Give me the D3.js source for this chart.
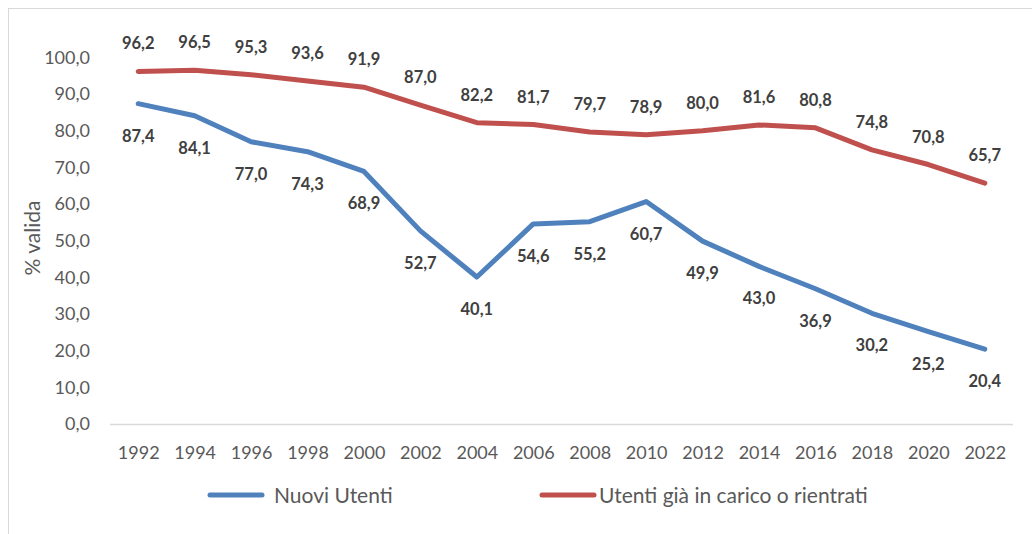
<!DOCTYPE html>
<html>
<head>
<meta charset="utf-8">
<script src="https://cdn.jsdelivr.net/npm/d3@7"></script>
<style>
  html, body { margin: 0; padding: 0; background: #fff; }
  svg { display: block; font-family: Lato, "Open Sans", sans-serif; }
</style>
</head>
<body>
<svg id="chart" width="1032" height="534"></svg>
<script>
// ── dati ──────────────────────────────────────────────
const years  = ["1992","1994","1996","1998","2000","2002","2004","2006",
                "2008","2010","2012","2014","2016","2018","2020","2022"];
const nuovi  = [87.4, 84.1, 77.0, 74.3, 68.9, 52.7, 40.1, 54.6,
                55.2, 60.7, 49.9, 43.0, 36.9, 30.2, 25.2, 20.4];
const giaIn  = [96.2, 96.5, 95.3, 93.6, 91.9, 87.0, 82.2, 81.7,
                79.7, 78.9, 80.0, 81.6, 80.8, 74.8, 70.8, 65.7];
const yTicks = [0, 10, 20, 30, 40, 50, 60, 70, 80, 90, 100];

const series = [
  { name: "Nuovi Utenti",                   values: nuovi, color: "#4F81BD", labelDy: 38 },
  { name: "Utenti già in carico o rientrati", values: giaIn, color: "#C0504D", labelDy: -22 }
];

const fmt = v => d3.format(".1f")(v).replace(".", ",");

const svg = d3.select("#chart");

// bordo area grafico
svg.append("rect")
  .attr("x", 8.5).attr("y", 8.5)
  .attr("width", 1040).attr("height", 540)
  .attr("fill", "none").attr("stroke", "#d9d9d9");

const x = d3.scalePoint().domain(years).range([110, 1013]).padding(0.5);
const y = d3.scaleLinear().domain([0, 100]).range([424, 57.5]);

// asse Y (solo etichette)
const yAxis = svg.append("g").attr("transform", "translate(90,0)")
  .call(d3.axisLeft(y).tickValues(yTicks).tickFormat(fmt).tickSize(0).tickPadding(0));
yAxis.select(".domain").remove();
yAxis.selectAll("text")
  .attr("font-size", 18).attr("fill", "#595959")
  .attr("font-family", "Lato, sans-serif");

// linea base 0
svg.append("line")
  .attr("x1", 110).attr("x2", 1013)
  .attr("y1", y(0) + 0.5).attr("y2", y(0) + 0.5)
  .attr("stroke", "#d9d9d9").attr("stroke-width", 1.5);

// asse X (etichette anni)
const xAxis = svg.append("g").attr("transform", `translate(0,${y(0)})`)
  .call(d3.axisBottom(x).tickSize(0).tickPadding(22));
xAxis.select(".domain").remove();
xAxis.selectAll("text")
  .attr("font-size", 18).attr("fill", "#595959")
  .attr("font-family", "Lato, sans-serif");

// titolo asse Y
svg.append("text")
  .attr("transform", "translate(40,238) rotate(-90)")
  .attr("text-anchor", "middle")
  .attr("font-size", 21).attr("fill", "#595959")
  .text("% valida");

// linee
const line = d3.line()
  .x((d, i) => x(years[i]))
  .y(d => y(d));

series.forEach(s => {
  svg.append("path")
    .datum(s.values)
    .attr("d", line)
    .attr("fill", "none")
    .attr("stroke", s.color)
    .attr("stroke-width", 5)
    .attr("stroke-linecap", "round")
    .attr("stroke-linejoin", "round");

  svg.append("g").selectAll("text")
    .data(s.values)
    .join("text")
    .attr("x", (d, i) => x(years[i]))
    .attr("y", d => y(d) + s.labelDy)
    .attr("text-anchor", "middle")
    .attr("font-size", 16.5).attr("font-weight", "bold")
    .attr("fill", "#404040")
    .text(fmt);
});

// legenda
const legendX = [208, 540];
series.forEach((s, i) => {
  const g = svg.append("g").attr("transform", `translate(${legendX[i]},495)`);
  g.append("line")
    .attr("x1", 2).attr("x2", 54)
    .attr("stroke", s.color).attr("stroke-width", 5)
    .attr("stroke-linecap", "round");
  g.append("text")
    .attr("x", i === 0 ? 66 : 59).attr("y", 7.5)
    .attr("font-size", 21).attr("fill", "#595959")
    .text(s.name);
});
</script>
</body>
</html>
